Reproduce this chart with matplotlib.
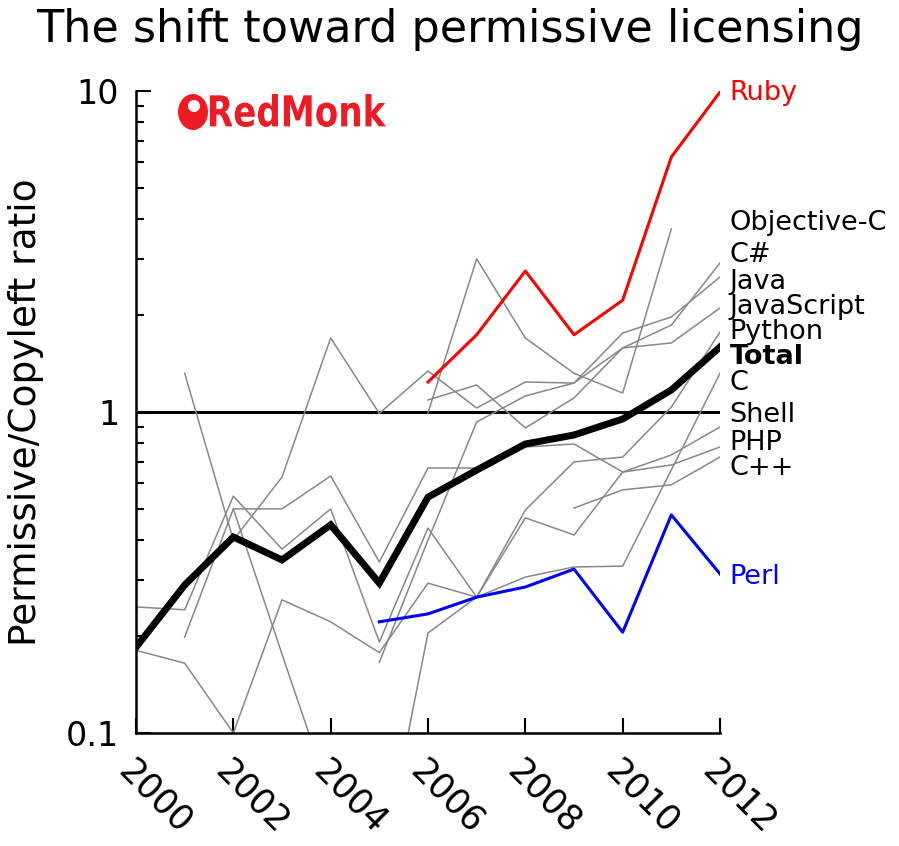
import numpy as np
import matplotlib
matplotlib.use("Agg")
import matplotlib.pyplot as plt
from matplotlib.textpath import TextPath
from matplotlib.patches import PathPatch, Ellipse, Circle
from matplotlib.font_manager import FontProperties
from matplotlib.transforms import Affine2D, IdentityTransform
from matplotlib.ticker import LogLocator, FixedLocator, FixedFormatter, NullFormatter

nan = np.nan
years = list(range(2000, 2013))

# permissive / copyleft ratio per language
total = [0.185, 0.289, 0.408, 0.346, 0.445, 0.293, 0.543, 0.659, 0.795, 0.848, 0.951, 1.171, 1.594]
ruby = [nan, nan, nan, nan, nan, nan, 1.24, 1.74, 2.75, 1.74, 2.23, 6.23, 9.93]
perl = [nan, nan, nan, nan, nan, 0.222, 0.235, 0.265, 0.285, 0.324, 0.206, 0.478, 0.313]

objc = [nan, nan, nan, nan, nan, nan, 0.993, 3.00, 1.70, 1.32, 1.146, 3.72, nan]
csharp = [nan, 1.32, 0.399, 0.627, 1.70, 0.99, 1.342, 1.029, 1.24, 1.231, 1.583, 1.866, 2.912]
java = [nan, nan, nan, nan, nan, 0.166, 0.399, 0.931, 1.122, 1.231, 1.762, 1.977, 2.634]
javascript = [nan, nan, nan, nan, nan, nan, 1.090, 1.214, 0.892, 1.106, 1.583, 1.641, 2.109]
python = [nan, nan, 0.499, 0.176, 0.063, 0.035, 0.205, 0.265, 0.495, 0.699, 0.724, 1.036, 1.775]
c_lang = [0.181, 0.165, 0.100, 0.260, 0.222, 0.178, 0.293, 0.265, 0.306, 0.329, 0.331, 0.660, 1.32]
shell = [0.247, 0.242, 0.547, 0.374, 0.499, 0.192, 0.435, 0.265, 0.468, 0.414, 0.650, 0.735, 0.898]
php = [nan, 0.199, 0.499, 0.499, 0.632, 0.341, 0.669, 0.669, 0.778, 0.795, 0.650, 0.684, 0.778]
cpp = [nan, nan, nan, nan, nan, nan, nan, nan, nan, 0.502, 0.572, 0.593, 0.724]

gray_series = [objc, csharp, java, javascript, python, c_lang, shell, php, cpp]

labels = ["Ruby", "Objective-C", "C#", "Java", "JavaScript", "Python", "Total",
          "C", "Shell", "PHP", "C++", "Perl"]
label_y = [9.86, 3.88, 3.08, 2.54, 2.12, 1.775, 1.484, 1.231, 0.979, 0.80, 0.669, 0.306]
label_col = ["#ff0000"] + ["black"] * 10 + ["#0000ff"]

fig = plt.figure(figsize=(8.99, 8.46), dpi=100)
ax = fig.add_axes([136 / 899, 113 / 846, 584 / 899, 642 / 846])

ax.axhline(1, color="black", lw=2.2, zorder=1)
for s in gray_series:
    ax.plot(years, s, color="#888888", lw=1.1, zorder=2)
ax.plot(years, total, color="black", lw=5, zorder=4, solid_joinstyle="miter")
ax.plot(years, ruby, color="#ff0000", lw=2.2, zorder=3)
ax.plot(years, perl, color="#0000ff", lw=2.2, zorder=3)

ax.set_yscale("log")
ax.set_ylim(0.1, 10)
ax.set_xlim(2000, 2012)

for lab, yv, col in zip(labels, label_y, label_col):
    ax.annotate(lab, xy=(2012, yv), xytext=(7, 0), textcoords="offset points",
                va="center", ha="left", fontsize=19.5, color=col,
                fontweight="bold" if lab == "Total" else "normal",
                annotation_clip=False)

for side in ["top", "right"]:
    ax.spines[side].set_visible(False)
for side in ["left", "bottom"]:
    ax.spines[side].set_linewidth(1.8)

ax.yaxis.set_major_locator(FixedLocator([0.1, 1, 10]))
ax.yaxis.set_major_formatter(FixedFormatter(["0.1", "1", "10"]))
ax.yaxis.set_minor_locator(LogLocator(base=10, subs=np.arange(2, 10)))
ax.yaxis.set_minor_formatter(NullFormatter())
ax.tick_params(axis="y", which="major", direction="in", length=11, width=1.5,
               labelsize=24, pad=12)
ax.tick_params(axis="y", which="minor", direction="in", length=6, width=1.5)

ax.set_xticks(range(2000, 2013, 2))
ax.tick_params(axis="x", which="major", direction="in", length=11, width=1.5,
               labelsize=25, pad=15)
for t in ax.get_xticklabels():
    t.set_rotation(-45)
    t.set_ha("left")
    t.set_va("top")
    t.set_rotation_mode("anchor")

ax.set_ylabel("Permissive/Copyleft ratio", fontsize=27, labelpad=16)
fig.suptitle("The shift toward permissive licensing", fontsize=32, y=0.99)

# RedMonk logo
red = "#ed1c24"
tp = TextPath((0, 0), "RedMonk", size=100,
              prop=FontProperties(family="DejaVu Sans", weight="bold"))
bb = tp.get_extents()
tr = Affine2D().translate(-bb.x0, -bb.y0).scale(176 / bb.width, 33 / bb.height).translate(210, 719)
logo = PathPatch(tp, facecolor=red, edgecolor="none", transform=tr)
fig.add_artist(logo)
fig.add_artist(Ellipse((193, 734), 30, 36, facecolor=red, edgecolor="none",
                       transform=IdentityTransform()))
fig.add_artist(Circle((194, 740), 6, facecolor="white", edgecolor="none",
                      transform=IdentityTransform()))

fig.savefig("out.png", dpi=100)
